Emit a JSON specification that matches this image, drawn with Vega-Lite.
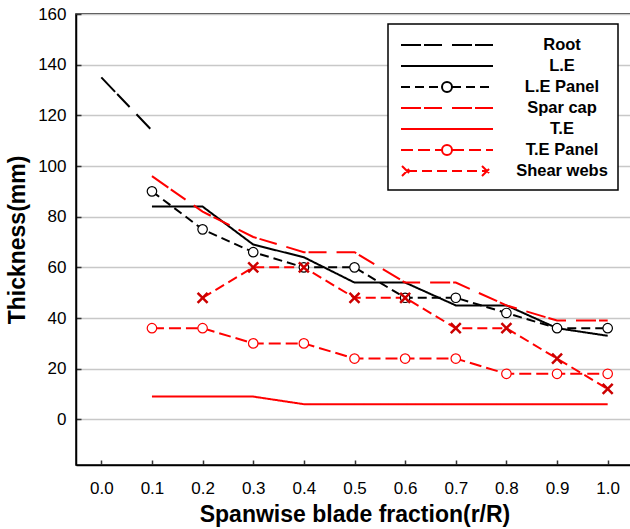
{
  "$schema": "https://vega.github.io/schema/vega-lite/v6.json",
  "width": 557,
  "height": 451,
  "autosize": {"type": "none"},
  "padding": {"left": 76, "top": 14, "right": 0, "bottom": 64},
  "background": "white",
  "config": {
    "view": {"stroke": "black", "strokeWidth": 1.5},
    "font": "Liberation Sans",
    "axis": {
      "labelFont": "Liberation Sans",
      "labelFontSize": 17,
      "labelColor": "black",
      "titleFont": "Liberation Sans",
      "titleFontSize": 23,
      "titleFontWeight": "bold",
      "titleColor": "black",
      "domainColor": "black",
      "domainWidth": 1.5,
      "tickColor": "#333333",
      "tickWidth": 1.5,
      "gridColor": "#c8c8c8",
      "gridWidth": 1.3
    }
  },
  "data": {
    "values": [
      {"s": "Root", "x": 0.0, "y": 135},
      {"s": "Root", "x": 0.1, "y": 114},
      {"s": "L.E", "x": 0.1, "y": 84},
      {"s": "L.E", "x": 0.2, "y": 84},
      {"s": "L.E", "x": 0.3, "y": 69},
      {"s": "L.E", "x": 0.4, "y": 64},
      {"s": "L.E", "x": 0.5, "y": 54},
      {"s": "L.E", "x": 0.6, "y": 54},
      {"s": "L.E", "x": 0.7, "y": 45},
      {"s": "L.E", "x": 0.8, "y": 45},
      {"s": "L.E", "x": 0.9, "y": 36},
      {"s": "L.E", "x": 1.0, "y": 33},
      {"s": "L.E Panel", "x": 0.1, "y": 90},
      {"s": "L.E Panel", "x": 0.2, "y": 75},
      {"s": "L.E Panel", "x": 0.3, "y": 66},
      {"s": "L.E Panel", "x": 0.4, "y": 60},
      {"s": "L.E Panel", "x": 0.5, "y": 60},
      {"s": "L.E Panel", "x": 0.6, "y": 48},
      {"s": "L.E Panel", "x": 0.7, "y": 48},
      {"s": "L.E Panel", "x": 0.8, "y": 42},
      {"s": "L.E Panel", "x": 0.9, "y": 36},
      {"s": "L.E Panel", "x": 1.0, "y": 36},
      {"s": "Spar cap", "x": 0.1, "y": 96},
      {"s": "Spar cap", "x": 0.2, "y": 82},
      {"s": "Spar cap", "x": 0.3, "y": 72},
      {"s": "Spar cap", "x": 0.4, "y": 66},
      {"s": "Spar cap", "x": 0.5, "y": 66},
      {"s": "Spar cap", "x": 0.6, "y": 54},
      {"s": "Spar cap", "x": 0.7, "y": 54},
      {"s": "Spar cap", "x": 0.8, "y": 45},
      {"s": "Spar cap", "x": 0.9, "y": 39},
      {"s": "Spar cap", "x": 1.0, "y": 39},
      {"s": "T.E", "x": 0.1, "y": 9},
      {"s": "T.E", "x": 0.2, "y": 9},
      {"s": "T.E", "x": 0.3, "y": 9},
      {"s": "T.E", "x": 0.4, "y": 6},
      {"s": "T.E", "x": 0.5, "y": 6},
      {"s": "T.E", "x": 0.6, "y": 6},
      {"s": "T.E", "x": 0.7, "y": 6},
      {"s": "T.E", "x": 0.8, "y": 6},
      {"s": "T.E", "x": 0.9, "y": 6},
      {"s": "T.E", "x": 1.0, "y": 6},
      {"s": "T.E Panel", "x": 0.1, "y": 36},
      {"s": "T.E Panel", "x": 0.2, "y": 36},
      {"s": "T.E Panel", "x": 0.3, "y": 30},
      {"s": "T.E Panel", "x": 0.4, "y": 30},
      {"s": "T.E Panel", "x": 0.5, "y": 24},
      {"s": "T.E Panel", "x": 0.6, "y": 24},
      {"s": "T.E Panel", "x": 0.7, "y": 24},
      {"s": "T.E Panel", "x": 0.8, "y": 18},
      {"s": "T.E Panel", "x": 0.9, "y": 18},
      {"s": "T.E Panel", "x": 1.0, "y": 18},
      {"s": "Shear webs", "x": 0.2, "y": 48},
      {"s": "Shear webs", "x": 0.3, "y": 60},
      {"s": "Shear webs", "x": 0.4, "y": 60},
      {"s": "Shear webs", "x": 0.5, "y": 48},
      {"s": "Shear webs", "x": 0.6, "y": 48},
      {"s": "Shear webs", "x": 0.7, "y": 36},
      {"s": "Shear webs", "x": 0.8, "y": 36},
      {"s": "Shear webs", "x": 0.9, "y": 24},
      {"s": "Shear webs", "x": 1.0, "y": 12}
    ]
  },
  "encoding": {
    "x": {
      "field": "x",
      "type": "quantitative",
      "scale": {"domain": [-0.05, 1.05], "nice": false, "zero": false},
      "axis": {
        "values": [0, 0.1, 0.2, 0.3, 0.4, 0.5, 0.6, 0.7, 0.8, 0.9, 1.0],
        "format": ".1f",
        "title": "Spanwise blade fraction(r/R)",
        "grid": false,
        "tickSize": -5,
        "labelPadding": 20,
        "titlePadding": 7
      }
    },
    "y": {
      "field": "y",
      "type": "quantitative",
      "scale": {"domain": [-18, 160], "nice": false, "zero": false},
      "axis": {
        "values": [0, 20, 40, 60, 80, 100, 120, 140, 160],
        "title": "Thickness(mm)",
        "grid": true,
        "tickSize": -5,
        "labelPadding": 15,
        "titlePadding": 8
      }
    }
  },
  "layer": [
    {
      "mark": {"type": "line", "strokeWidth": 2},
      "encoding": {
        "color": {
          "field": "s",
          "type": "nominal",
          "scale": {
            "domain": ["Root", "L.E", "L.E Panel", "Spar cap", "T.E", "T.E Panel", "Shear webs"],
            "range": ["#000000", "#000000", "#000000", "#ff0000", "#ff0000", "#ff0000", "#ff0000"]
          },
          "legend": {
            "title": null,
            "orient": "none",
            "legendX": 312,
            "legendY": 10,
            "strokeColor": "black",
            "fillColor": "white",
            "padding": 10,
            "symbolSize": 400,
            "symbolOffset": 38,
            "symbolStrokeWidth": 2,
            "labelOffset": 104,
            "labelAlign": "center",
            "labelFont": "Liberation Sans",
            "labelFontSize": 16.5,
            "labelFontWeight": "bold",
            "labelColor": "black",
            "rowPadding": 1,
            "encode": {
              "legend": {"update": {"strokeWidth": {"value": 1.5}}},
              "symbols": {
                "update": {
                  "shape": {"signal": "indexof(['L.E Panel','T.E Panel'], datum.value) >= 0 ? 'M-4.6,0H-0.5M0.5,0H4.6M0.5,0A0.5,0.5 0 0 1 0,0.5M0,0.5A0.5,0.5 0 0 1 -0.5,0M-0.5,0A0.5,0.5 0 0 1 0,-0.5M0,-0.5A0.5,0.5 0 0 1 0.5,0' : datum.value === 'Shear webs' ? 'M-4,0H4M-4.5,-0.5L-3.5,0.5M-4.5,0.5L-3.5,-0.5M3.5,-0.5L4.5,0.5M3.5,0.5L4.5,-0.5' : 'M-4.6,0H4.6'"},
                  "fill": {"value": "transparent"},
                  "strokeWidth": {"value": 2},
                  "opacity": {"value": 1}
                }
              }
            }
          }
        },
        "strokeDash": {
          "field": "s",
          "type": "nominal",
          "scale": {
            "domain": ["Root", "L.E", "L.E Panel", "Spar cap", "T.E", "T.E Panel", "Shear webs"],
            "range": [[20, 3, 18, 10], [1, 0], [9, 5], [20, 3, 18, 10], [1, 0], [12, 5], [10, 5]]
          },
          "legend": {
            "title": null,
            "orient": "none",
            "legendX": 312,
            "legendY": 10
          }
        }
      }
    },
    {
      "transform": [{"filter": "datum.s === 'L.E Panel' || datum.s === 'T.E Panel'"}],
      "mark": {"type": "point", "filled": false, "fill": "white", "fillOpacity": 1, "opacity": 1, "size": 90, "strokeWidth": 1.2},
      "encoding": {
        "color": {"field": "s", "type": "nominal", "legend": null}
      }
    },
    {
      "transform": [{"filter": "datum.s === 'Shear webs'"}],
      "mark": {"type": "point", "shape": "M-1,-1L1,1M-1,1L1,-1", "filled": false, "opacity": 1, "size": 100, "strokeWidth": 2.5, "color": "#cc0000"}
    }
  ]
}
